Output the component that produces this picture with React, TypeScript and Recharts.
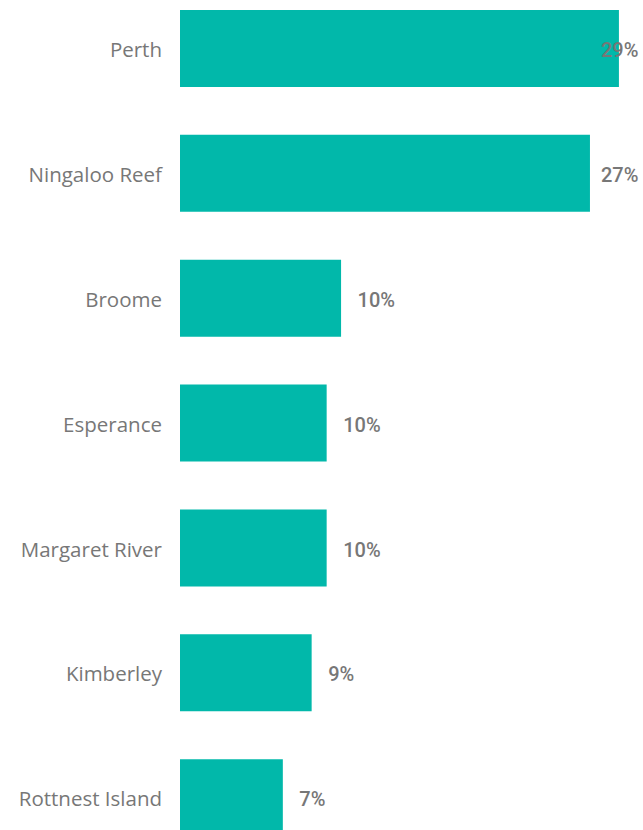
import React from "react";
import { BarChart, Bar, XAxis, YAxis, LabelList } from "recharts";

const categories = [
  "Perth",
  "Ningaloo Reef",
  "Broome",
  "Esperance",
  "Margaret River",
  "Kimberley",
  "Rottnest Island",
];
const shares = [28.94, 27.03, 10.62, 9.67, 9.67, 8.68, 6.78];
const shareLabels = ["29%", "27%", "10%", "10%", "10%", "9%", "7%"];

const data = categories.map((name, i) => ({
  name,
  value: shares[i],
  label: shareLabels[i],
}));

const TEXT = "#777777";
const BAR = "#01B8AA";
const CHART_W = 643;
const RIGHT_EDGE = 640;

const CategoryTick = (props: any) => {
  const { x, y, payload } = props;
  return (
    <text
      x={x}
      y={y + 1.5}
      dy="0.355em"
      textAnchor="end"
      fill={TEXT}
      fontFamily="'Segoe UI', 'Open Sans', sans-serif"
      fontSize={20.5}
    >
      {payload.value}
    </text>
  );
};

const ValueLabel = (props: any) => {
  const { x, y, width, height, index } = props;
  const text = shareLabels[index];
  const estW = text.length === 3 ? 39 : 27;
  let tx = x + width + 16.5;
  if (tx + estW > RIGHT_EDGE) tx = RIGHT_EDGE - estW;
  return (
    <text
      x={tx}
      y={y + height / 2 + 1.5}
      dy="0.355em"
      textAnchor="start"
      fill={TEXT}
      fontFamily="Roboto, sans-serif"
      fontWeight={500}
      fontSize={20}
    >
      {text}
    </text>
  );
};

export default function App() {
  return (
    <div style={{ position: "absolute", left: 0, top: -14 }}>
      <BarChart
        width={CHART_W}
        height={874}
        data={data}
        layout="vertical"
        margin={{ top: 0, right: 8, bottom: 0, left: 0 }}
      >
        <XAxis type="number" domain={[0, 30]} hide />
        <YAxis
          type="category"
          dataKey="name"
          width={180}
          axisLine={false}
          tickLine={false}
          tickSize={0}
          tickMargin={18}
          interval={0}
          tick={<CategoryTick />}
        />
        <Bar dataKey="value" fill={BAR} barSize={77} isAnimationActive={false}>
          <LabelList dataKey="label" content={<ValueLabel />} />
        </Bar>
      </BarChart>
    </div>
  );
}
